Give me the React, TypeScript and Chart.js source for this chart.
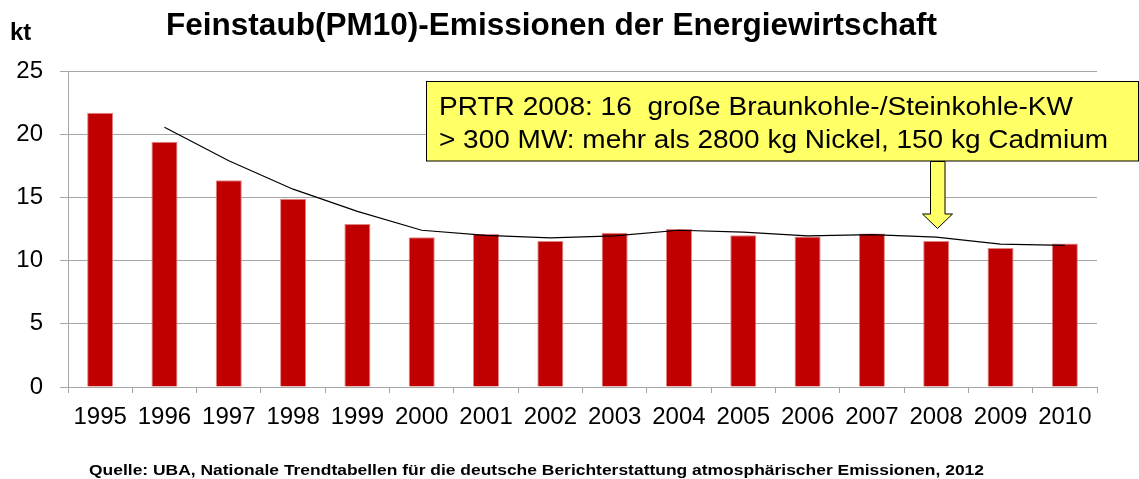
import React, { useEffect, useRef } from "react";
import { Chart, registerables } from "chart.js";

Chart.register(...registerables);

const years = ["1995", "1996", "1997", "1998", "1999", "2000", "2001", "2002", "2003", "2004", "2005", "2006", "2007", "2008", "2009", "2010"];
const emissions = [21.7, 19.4, 16.35, 14.9, 12.9, 11.85, 12.1, 11.55, 12.2, 12.5, 12.0, 11.9, 12.15, 11.55, 11.0, 11.35];
const trend = [null, 20.55, 17.9, 15.65, 13.9, 12.4, 12.0, 11.8, 11.95, 12.4, 12.25, 11.95, 12.05, 11.85, 11.3, 11.2];
const yTicks = [0, 5, 10, 15, 20, 25];

const titleText = "Feinstaub(PM10)-Emissionen der Energiewirtschaft";
const unitText = "kt";
const noteLines = [
  "PRTR 2008: 16  große Braunkohle-/Steinkohle-KW",
  "> 300 MW: mehr als 2800 kg Nickel, 150 kg Cadmium",
];
const sourceText = "Quelle: UBA, Nationale Trendtabellen für die deutsche Berichterstattung atmosphärischer Emissionen, 2012";

const FONT = '"Liberation Sans", Arial, sans-serif';
const GRID = "#A6A6A6";

function drawFitted(ctx: CanvasRenderingContext2D, text: string, x: number, y: number, width: number, font: string) {
  ctx.save();
  ctx.font = font;
  ctx.textAlign = "left";
  ctx.textBaseline = "alphabetic";
  const w = ctx.measureText(text).width;
  ctx.translate(x, y);
  ctx.scale(width / w, 1);
  ctx.fillText(text, 0, 0);
  ctx.restore();
}

const decorations = {
  id: "decorations",
  afterDraw(chart: any) {
    const ctx: CanvasRenderingContext2D = chart.ctx;
    ctx.save();
    ctx.fillStyle = "#000";
    drawFitted(ctx, titleText, 166, 35, 771, `bold 32px ${FONT}`);
    ctx.font = `bold 24px ${FONT}`;
    ctx.textAlign = "left";
    ctx.fillText(unitText, 10, 40);
    drawFitted(ctx, sourceText, 89, 475, 895, `bold 15px ${FONT}`);

    ctx.fillStyle = "#FFFF66";
    ctx.strokeStyle = "#000";
    ctx.lineWidth = 1;
    ctx.fillRect(426.5, 81.5, 712, 79.5);
    ctx.strokeRect(426.5, 81.5, 712, 79.5);
    ctx.fillStyle = "#000";
    drawFitted(ctx, noteLines[0], 439, 114.5, 634, `25px ${FONT}`);
    drawFitted(ctx, noteLines[1], 439, 147.5, 669, `25px ${FONT}`);

    ctx.beginPath();
    ctx.moveTo(930.5, 161.5);
    ctx.lineTo(945, 161.5);
    ctx.lineTo(945, 214);
    ctx.lineTo(952.5, 214);
    ctx.lineTo(937.5, 228.5);
    ctx.lineTo(922.5, 214);
    ctx.lineTo(930.5, 214);
    ctx.closePath();
    ctx.fillStyle = "#FFFF66";
    ctx.fill();
    ctx.strokeStyle = "#000";
    ctx.stroke();
    ctx.restore();
  },
};

export default function App() {
  const ref = useRef<HTMLCanvasElement | null>(null);
  useEffect(() => {
    document.body.style.margin = "0";
    const chart = new Chart(ref.current as HTMLCanvasElement, {
      type: "bar",
      data: {
        labels: years,
        datasets: [
          {
            type: "line",
            data: trend as any,
            borderColor: "#000",
            borderWidth: 1.2,
            pointRadius: 0,
            tension: 0,
            fill: false,
            order: 0,
          } as any,
          {
            type: "bar",
            data: emissions,
            backgroundColor: "#C00000",
            borderColor: "#E08585",
            borderWidth: 1,
            barPercentage: 0.405,
            categoryPercentage: 1,
            order: 1,
          },
        ],
      },
      options: {
        animation: false,
        responsive: false,
        devicePixelRatio: 1,
        layout: { padding: { top: 71, right: 42, bottom: 0, left: 0 } },
        plugins: { legend: { display: false }, tooltip: { enabled: false }, title: { display: false } },
        scales: {
          x: {
            grid: { display: true, drawOnChartArea: false, drawTicks: true, tickLength: 6, color: GRID, offset: true },
            border: { color: GRID, width: 1 },
            ticks: { color: "#000", font: { family: FONT, size: 24 }, padding: 10, maxRotation: 0, autoSkip: false },
            afterFit: (s: any) => { s.height = 92; },
          },
          y: {
            min: 0,
            max: 25,
            afterBuildTicks: (s: any) => { s.ticks = yTicks.map((v) => ({ value: v })); },
            grid: { color: GRID, tickLength: 8, drawTicks: true },
            border: { color: GRID, width: 1 },
            ticks: { color: "#000", font: { family: FONT, size: 24 }, padding: 17 },
            afterFit: (s: any) => { s.width = 68; },
          },
        },
      },
      plugins: [decorations],
    });
    return () => chart.destroy();
  }, []);
  return (
    <div style={{ position: "absolute", left: 0, top: 0, width: 1139, height: 479 }}>
      <canvas ref={ref} width={1139} height={479} />
    </div>
  );
}
